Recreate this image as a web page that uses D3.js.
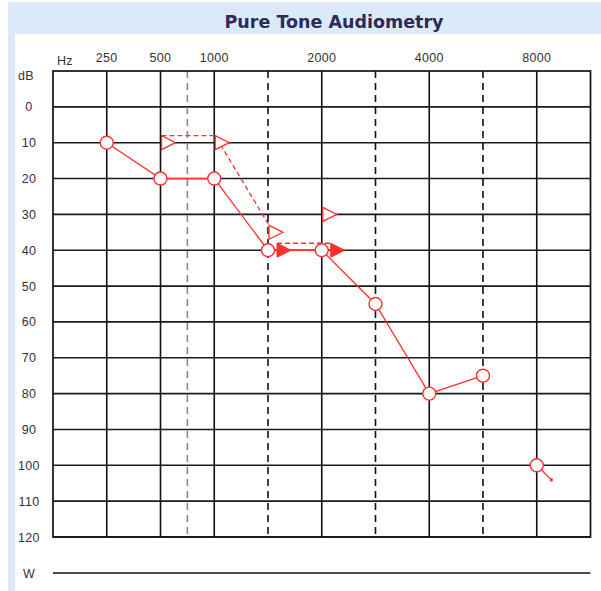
<!DOCTYPE html>
<html>
<head>
<meta charset="utf-8">
<script src="https://cdn.jsdelivr.net/npm/d3@7"></script>
<style>
  body { margin: 0; background: #fff; }
  svg { display: block; font-family: "Liberation Sans", Arial, sans-serif; }
  .tick-label { font-size: 12.5px; fill: #333; letter-spacing: 0.3px; }
</style>
</head>
<body>
<svg id="chart"></svg>
<script>
// frequencies (Hz) and their label slots on the x axis
const freqLabels = ["250", "500", "1000", "2000", "4000", "8000"];
const solidFreqs = [250, 500, 1000, 2000, 4000, 8000];
const dashedFreqs = [1500, 3000, 6000];
const grayDashedFreqs = [750];
const dbTicks = [0, 10, 20, 30, 40, 50, 60, 70, 80, 90, 100, 110, 120];

// air conduction (circles)
const airFreqs = [250, 500, 1000, 1500, 2000, 3000, 4000, 6000];
const airDb = [10, 20, 20, 40, 40, 55, 80, 75];
// no response point
const nrFreq = 8000;
const nrDb = 100;

// bone conduction, open triangles
const boneFreqs = [500, 1000, 1500, 2000];
const boneDb = [10, 10, 35, 30];
const boneLinked = 3; // first three joined by dashed line

// bone conduction, filled triangles
const boneFilledFreqs = [1500, 2000];
const boneFilledDb = [40, 40];

// slot positions of frequencies on the audiogram
const slot = {250: 1, 500: 2, 750: 2.5, 1000: 3, 1500: 4, 2000: 5, 3000: 6, 4000: 7, 6000: 8, 8000: 9};

const W = 601, H = 591;
const svg = d3.select("#chart").attr("width", W).attr("height", H);

// frame
svg.append("rect").attr("x", 8).attr("y", 2).attr("width", W - 8).attr("height", 32).attr("fill", "#dce9f8");
svg.append("rect").attr("x", 8).attr("y", 2).attr("width", 7).attr("height", H).attr("fill", "#dce9f8");
svg.append("text")
    .attr("x", 334).attr("y", 28)
    .attr("text-anchor", "middle")
    .attr("font-family", "'DejaVu Sans', Verdana, sans-serif")
    .attr("font-size", 17.5).attr("font-weight", "bold")
    .attr("fill", "#2e2b58")
    .text("Pure Tone Audiometry");

const xScale = d3.scaleLinear().domain([0, 10]).range([53, 590.5]);
const yScale = d3.scaleLinear().domain([-10, 120]).range([71, 537]);
const fx = f => xScale(slot[f]);

const grid = svg.append("g");

// horizontal grid lines
grid.selectAll(".hline")
    .data(dbTicks)
    .enter().append("line")
    .attr("x1", xScale(0)).attr("x2", xScale(10))
    .attr("y1", d => yScale(d)).attr("y2", d => yScale(d))
    .attr("stroke", "#1a1a1a").attr("stroke-width", 1.6);

// vertical grid lines
grid.selectAll(".vsolid")
    .data(solidFreqs)
    .enter().append("line")
    .attr("x1", d => fx(d)).attr("x2", d => fx(d))
    .attr("y1", yScale(-10)).attr("y2", yScale(120))
    .attr("stroke", "#111").attr("stroke-width", 1.6);

grid.selectAll(".vdash")
    .data(dashedFreqs)
    .enter().append("line")
    .attr("x1", d => fx(d)).attr("x2", d => fx(d))
    .attr("y1", yScale(-10)).attr("y2", yScale(120))
    .attr("stroke", "#111").attr("stroke-width", 1.6)
    .attr("stroke-dasharray", "7,5");

grid.selectAll(".vgray")
    .data(grayDashedFreqs)
    .enter().append("line")
    .attr("x1", d => fx(d)).attr("x2", d => fx(d))
    .attr("y1", yScale(-10)).attr("y2", yScale(120))
    .attr("stroke", "#8a8a8a").attr("stroke-width", 1.6)
    .attr("stroke-dasharray", "7,5");

// outer border
grid.append("rect")
    .attr("x", xScale(0)).attr("y", yScale(-10))
    .attr("width", xScale(10) - xScale(0)).attr("height", yScale(120) - yScale(-10))
    .attr("fill", "none").attr("stroke", "#111").attr("stroke-width", 1.7);

// axis labels
svg.selectAll(".xlab")
    .data(freqLabels)
    .enter().append("text")
    .attr("class", "tick-label")
    .attr("x", d => fx(+d)).attr("y", 62)
    .attr("text-anchor", "middle")
    .text(d => d);
svg.append("text").attr("class", "tick-label").attr("x", 57).attr("y", 65).text("Hz");

svg.selectAll(".ylab")
    .data(dbTicks)
    .enter().append("text")
    .attr("class", "tick-label")
    .attr("x", 29).attr("y", d => yScale(d) + 4.5)
    .attr("text-anchor", "middle")
    .text(d => d);
svg.append("text").attr("class", "tick-label").attr("x", 26).attr("y", 80).attr("text-anchor", "middle").text("dB");

// W row
svg.append("text").attr("class", "tick-label").attr("x", 29).attr("y", 578).attr("text-anchor", "middle").text("W");
svg.append("line")
    .attr("x1", xScale(0)).attr("x2", xScale(10))
    .attr("y1", 573).attr("y2", 573)
    .attr("stroke", "#111").attr("stroke-width", 1.6);

const red = "#ff3030";
const marks = svg.append("g");

// open triangle top-left corners, used for the dashed connection
const triSize = 14;
const boneTL = boneFreqs.map((f, i) => [fx(f) + 1, yScale(boneDb[i]) - triSize / 2]);
marks.append("path")
    .attr("d", d3.line()(boneTL.slice(0, boneLinked)))
    .attr("fill", "none").attr("stroke", red).attr("stroke-width", 1.3)
    .attr("stroke-dasharray", "5,3");

const filledTL = boneFilledFreqs.map((f, i) => [fx(f) + 9, yScale(boneFilledDb[i]) - triSize / 2]);
marks.append("path")
    .attr("d", d3.line()(filledTL))
    .attr("fill", "none").attr("stroke", red).attr("stroke-width", 1.3)
    .attr("stroke-dasharray", "5,3");

// air conduction line
const airPts = airFreqs.map((f, i) => [fx(f), yScale(airDb[i])]);
marks.append("path")
    .attr("d", d3.line()(airPts))
    .attr("fill", "none").attr("stroke", red).attr("stroke-width", 1.3);

// no response arrow at 8000
const nrX = fx(nrFreq), nrY = yScale(nrDb);
marks.append("line")
    .attr("x1", nrX).attr("y1", nrY)
    .attr("x2", nrX + 14).attr("y2", nrY + 14)
    .attr("stroke", red).attr("stroke-width", 1.3);
marks.append("rect")
    .attr("x", nrX + 13).attr("y", nrY + 13).attr("width", 3).attr("height", 3)
    .attr("fill", red);

// triangles
const triPath = (x, y) => `M${x},${y - triSize / 2}L${x + triSize},${y}L${x},${y + triSize / 2}Z`;
marks.selectAll(".tri")
    .data(boneFreqs)
    .enter().append("path")
    .attr("d", (d, i) => triPath(fx(d) + 1, yScale(boneDb[i])))
    .attr("fill", "#fff").attr("stroke", red).attr("stroke-width", 1.3);

marks.selectAll(".tri-filled")
    .data(boneFilledFreqs)
    .enter().append("path")
    .attr("d", (d, i) => triPath(fx(d) + 9, yScale(boneFilledDb[i])))
    .attr("fill", red).attr("stroke", red).attr("stroke-width", 1);

// circles
marks.selectAll(".air")
    .data(airPts.concat([[nrX, nrY]]))
    .enter().append("circle")
    .attr("cx", d => d[0]).attr("cy", d => d[1]).attr("r", 6.5)
    .attr("fill", "#fff").attr("stroke", red).attr("stroke-width", 1.4);
</script>
</body>
</html>
